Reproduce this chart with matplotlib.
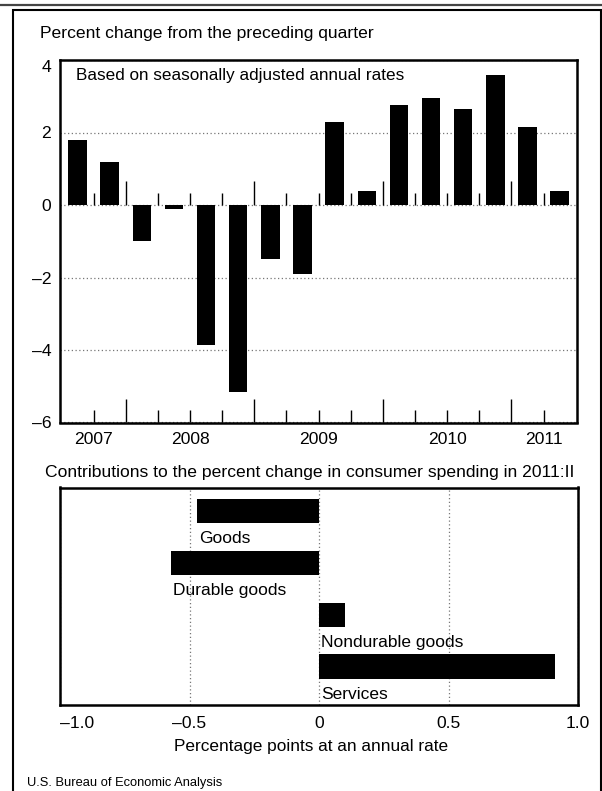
import numpy as np
import matplotlib
matplotlib.use("Agg")
import matplotlib.pyplot as plt
from matplotlib import font_manager
from matplotlib.patches import Rectangle
from matplotlib.lines import Line2D

# ---------------- data ----------------
quarters = ["2007:III", "2007:IV",
            "2008:I", "2008:II", "2008:III", "2008:IV",
            "2009:I", "2009:II", "2009:III", "2009:IV",
            "2010:I", "2010:II", "2010:III", "2010:IV",
            "2011:I", "2011:II"]
pct_change = [1.8, 1.2, -1.0, -0.1, -3.85, -5.15, -1.5, -1.9,
              2.3, 0.4, 2.75, 2.95, 2.65, 3.6, 2.15, 0.4]
y_ticks = [-6, -4, -2, 0, 2, 4]
y_tick_labels = ["\u20136", "\u20134", "\u20132", "0", "2", "4"]

components = ["Goods", "Durable goods", "Nondurable goods", "Services"]
contributions = [-0.47, -0.57, 0.10, 0.91]
x_ticks2 = [-1.0, -0.5, 0.0, 0.5, 1.0]
x_tick_labels2 = ["\u20131.0", "\u20130.5", "0", "0.5", "1.0"]

title1 = "Percent change from the preceding quarter"
note1 = "Based on seasonally adjusted annual rates"
title2 = "Contributions to the percent change in consumer spending in 2011:II"
xlabel2 = "Percentage points at an annual rate"
source = "U.S. Bureau of Economic Analysis"

# ---------------- fonts ----------------
names = {f.name for f in font_manager.fontManager.ttflist}
REG = ["Liberation Sans", "DejaVu Sans"]
if "Liberation Sans Narrow" in names:
    NARROW = ["Liberation Sans Narrow", "Liberation Sans", "DejaVu Sans"]
    tsize, ssize = 15.3, 11.3
else:
    NARROW = REG
    tsize, ssize = 12.6, 9.3
plt.rcParams["font.family"] = REG

W, H = 602, 791
def fx(px):
    return px / W
def fy(py):
    return 1 - py / H

fig = plt.figure(figsize=(W / 100, H / 100), dpi=100)
fig.patch.set_facecolor("white")

# outer frame & top rule
fig.add_artist(Rectangle((fx(12.5), -0.02), fx(600.5) - fx(12.5), fy(9.5) + 0.02,
                         transform=fig.transFigure, fill=False, lw=1.5, ec="black"))
fig.add_artist(Line2D([0, 1], [fy(4.5), fy(4.5)], transform=fig.transFigure,
                      color="#444444", lw=1.6))

# ---------------- top chart ----------------
n = len(pct_change)
x = np.arange(n)
ax1 = fig.add_axes([fx(59.5), fy(422.5), (577 - 59.5) / W, (422.5 - 60) / H])
ax1.bar(x, pct_change, width=0.57, color="black", zorder=3)
ax1.set_xlim(-0.56, n - 0.46)
ax1.set_ylim(-6, 4)
ax1.set_yticks(y_ticks)
ax1.set_yticklabels(y_tick_labels, fontsize=12.6)
ax1.yaxis.grid(True, linestyle=(0, (1, 2)), color="#777777", lw=0.9, zorder=1)
ax1.tick_params(axis="y", length=0, pad=6)

years = [q.split(":")[0] for q in quarters]
uniq_years = sorted(set(years))
year_centers = [np.mean([i for i, yv in enumerate(years) if yv == yr]) for yr in uniq_years]
ax1.set_xticks(year_centers)
ax1.set_xticklabels(uniq_years, fontsize=12.6)
ax1.tick_params(axis="x", length=0, pad=7)

# quarter separator ticks (long at year boundaries)
bpos = x[:-1] + 0.5
is_year = np.array([years[i] != years[i + 1] for i in range(n - 1)])
lens = np.where(is_year, 0.66, 0.34)
ax1.vlines(bpos, -6, -6 + lens, color="black", lw=1.0, zorder=4)
ax1.vlines(bpos, 0, lens, color="black", lw=1.0, zorder=4)
for s in ax1.spines.values():
    s.set_linewidth(1.8)
    s.set_zorder(5)

lab = ax1.get_yticklabels()[-1]
lab.set_verticalalignment("top")

ax1.text(fx(76) , fy(80), note1, transform=fig.transFigure, fontsize=12.3,
         va="baseline", ha="left")

fig.text(fx(40.5), fy(38), title1, fontsize=tsize, family=NARROW, va="baseline", ha="left")

# ---------------- bottom chart ----------------
ypos = np.arange(len(contributions))
ax2 = fig.add_axes([fx(60), fy(705), (578 - 60) / W, (705 - 487.5) / H])
ax2.barh(ypos, contributions, height=0.47, color="black", zorder=3)
ax2.set_xlim(-1, 1)
ax2.set_ylim(len(contributions) - 0.257, -0.457)
ax2.set_yticks([])
ax2.set_xticks(x_ticks2)
ax2.set_xticklabels(x_tick_labels2, fontsize=12.6)
ax2.get_xticklabels()[0].set_horizontalalignment("left")
ax2.tick_params(axis="x", length=0, pad=8)
ax2.xaxis.grid(True, linestyle=(0, (1, 2)), color="#777777", lw=0.9, zorder=1)
for s in ax2.spines.values():
    s.set_linewidth(1.8)
    s.set_zorder(5)
for yp, v, name in zip(ypos, contributions, components):
    ax2.text(min(v, 0) + 0.008, yp + 0.39, name, fontsize=12.5, va="top", ha="left", zorder=6)

fig.text(fx(45), fy(476.5), title2, fontsize=tsize, family=NARROW, va="baseline", ha="left")
fig.text(fx(311.5), fy(751), xlabel2, fontsize=12.4, va="baseline", ha="center")
fig.text(fx(27), fy(786), source, fontsize=ssize, family=NARROW, va="baseline", ha="left")

fig.savefig("out.png", dpi=100, facecolor="white")
